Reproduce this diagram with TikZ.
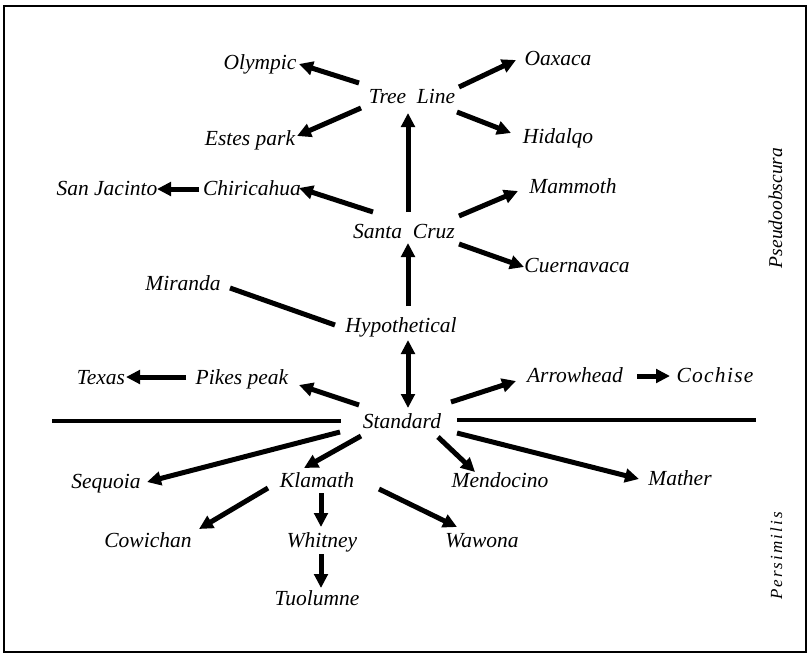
\documentclass[tikz,border=0pt]{standalone}
\usepackage{fontspec}
\setmainfont{Liberation Serif}
\usetikzlibrary{arrows.meta}

\tikzset{
  race/.style={font=\fontsize{21.5}{24}\selectfont\itshape, inner sep=0pt, anchor=base},
  sidelabel/.style={font=\fontsize{19.5}{22}\selectfont\itshape, inner sep=0pt, anchor=base, rotate=90},
  link/.style={line width=5pt},
  derive/.style={link, -{Triangle[length=14pt,width=13.5pt]}},
  both/.style={link, {Triangle[length=14pt,width=13.5pt]}-{Triangle[length=14pt,width=13.5pt]}},
  divider/.style={line width=4pt},
  frame/.style={line width=2.5pt}
}

\begin{document}
\begin{tikzpicture}[x=1pt,y=-1pt]
  \useasboundingbox (0,0) rectangle (809,657);
  \draw[frame] (4,6) rectangle (806,652);

  % gene arrangements (node anchor = text baseline centre)
  \node[race] (tl) at (412,103) {Tree\ \ Line};
  \node[race] (ol) at (260,69)  {Olympic};
  \node[race] (ox) at (558,65)  {Oaxaca};
  \node[race] (ep) at (250,145) {Estes park};
  \node[race] (hd) at (558,143) {Hidalqo};
  \node[race] (sj) at (107,195) {San Jacinto};
  \node[race] (ch) at (252,195) {Chiricahua};
  \node[race] (mm) at (573,193) {Mammoth};
  \node[race] (sc) at (404,238) {Santa\ \ Cruz};
  \node[race] (cv) at (577,272) {Cuernavaca};
  \node[race] (mi) at (183,290) {Miranda};
  \node[race] (hy) at (401,332) {Hypothetical};
  \node[race] (tx) at (101,384) {Texas};
  \node[race] (pp) at (242,384) {Pikes peak};
  \node[race] (ah) at (575,382) {Arrowhead};
  \node[race, font=\fontsize{21.5}{24}\selectfont\itshape\addfontfeature{LetterSpace=6}] (co) at (715,382) {Cochise};
  \node[race] (st) at (402,428) {Standard};
  \node[race] (sq) at (106,488) {Sequoia};
  \node[race] (kl) at (317,487) {Klamath};
  \node[race] (me) at (500,487) {Mendocino};
  \node[race] (ma) at (680,485) {Mather};
  \node[race] (cw) at (148,547) {Cowichan};
  \node[race] (wh) at (322,547) {Whitney};
  \node[race] (ww) at (482,547) {Wawona};
  \node[race] (tu) at (317,605) {Tuolumne};

  % species labels
  \node[sidelabel] (pso) at (782,208) {Pseudoobscura};
  \node[sidelabel, font=\fontsize{17}{20}\selectfont\itshape\addfontfeature{LetterSpace=12}] (per) at (782,556) {Persimilis};

  % species boundary
  \draw[divider] ([shift={(-350,-7)}]st.base) -- ([shift={(-61,-7)}]st.base);
  \draw[divider] ([shift={(55,-8)}]st.base) -- ([shift={(354,-8)}]st.base);

  % Pseudoobscura phylogeny
  \draw[derive] ([shift={(-53,-20)}]tl.base) -- ([shift={(39,-5)}]ol.base);
  \draw[derive] ([shift={(47,-16)}]tl.base) -- ([shift={(-42,-5)}]ox.base);
  \draw[derive] ([shift={(-51,5)}]tl.base) -- ([shift={(47,-9)}]ep.base);
  \draw[derive] ([shift={(45,9)}]tl.base) -- ([shift={(-47,-10)}]hd.base);
  \draw[derive] ([shift={(4,-26)}]sc.base) -- ([shift={(-4,10)}]tl.base);
  \draw[derive] ([shift={(-31,-26)}]sc.base) -- ([shift={(47,-7)}]ch.base);
  \draw[derive] ([shift={(-53,-6)}]ch.base) -- ([shift={(50,-6)}]sj.base);
  \draw[derive] ([shift={(55,-22)}]sc.base) -- ([shift={(-55,-2)}]mm.base);
  \draw[derive] ([shift={(55,6)}]sc.base) -- ([shift={(-53,-5)}]cv.base);
  \draw[derive] ([shift={(7,-26)}]hy.base) -- ([shift={(4,5)}]sc.base);
  \draw[link] ([shift={(47,-2)}]mi.base) -- ([shift={(-66,-7)}]hy.base);
  \draw[both] ([shift={(7,8)}]hy.base) -- ([shift={(6,-20)}]st.base);
  \draw[derive] ([shift={(-43,-23)}]st.base) -- ([shift={(57,1)}]pp.base);
  \draw[derive] ([shift={(-56,-7)}]pp.base) -- ([shift={(25,-7)}]tx.base);
  \draw[derive] ([shift={(49,-26)}]st.base) -- ([shift={(-59,-1)}]ah.base);
  \draw[derive] ([shift={(62,-6)}]ah.base) -- ([shift={(-45,-6)}]co.base);

  % Persimilis phylogeny
  \draw[derive] ([shift={(-62,4)}]st.base) -- ([shift={(41,-6)}]sq.base);
  \draw[derive] ([shift={(-41,8)}]st.base) -- ([shift={(-13,-19)}]kl.base);
  \draw[derive] ([shift={(36,9)}]st.base) -- ([shift={(-25,-15)}]me.base);
  \draw[derive] ([shift={(55,5)}]st.base) -- ([shift={(-41,-6)}]ma.base);
  \draw[derive] ([shift={(-49,1)}]kl.base) -- ([shift={(51,-18)}]cw.base);
  \draw[derive] ([shift={(4,6)}]kl.base) -- ([shift={(-1,-20)}]wh.base);
  \draw[derive] ([shift={(62,2)}]kl.base) -- ([shift={(-25,-20)}]ww.base);
  \draw[derive] ([shift={(-1,7)}]wh.base) -- ([shift={(4,-17)}]tu.base);
\end{tikzpicture}
\end{document}
